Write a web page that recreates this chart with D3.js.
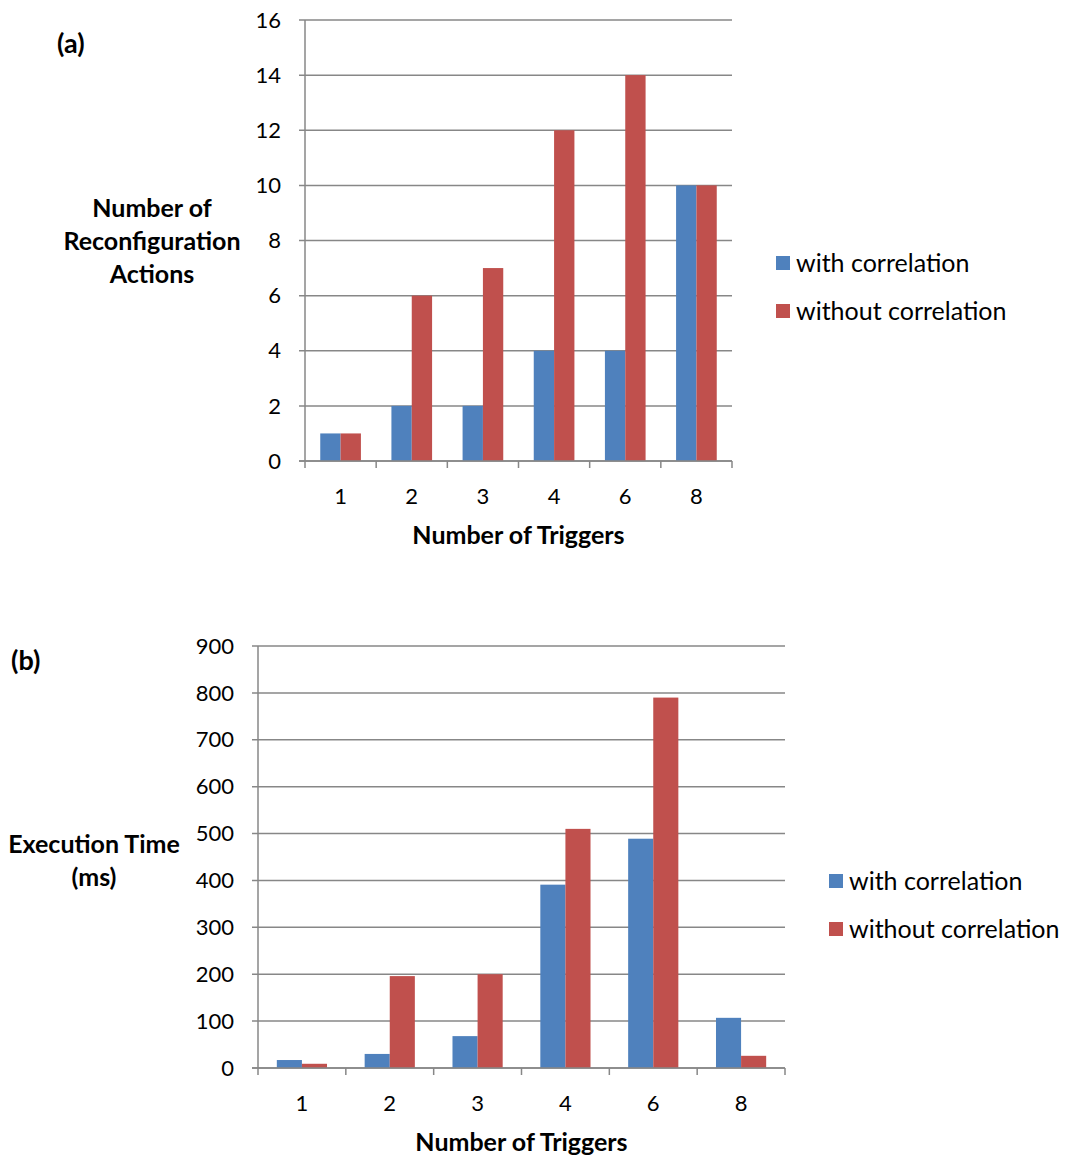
<!DOCTYPE html>
<html>
<head>
<meta charset="utf-8">
<script src="https://cdn.jsdelivr.net/npm/d3@7"></script>
<style>
  body { margin: 0; background: #fff; }
  text { font-family: Lato, "Open Sans", sans-serif; fill: #000; }
  .grid line { stroke: #878787; stroke-width: 1.5; }
</style>
</head>
<body>
<svg id="chart" width="1065" height="1160"></svg>
<script>
// shared categories / series
var triggers = ["1", "2", "3", "4", "6", "8"];
var seriesNames = ["with correlation", "without correlation"];
var seriesColors = ["#4F81BD", "#C0504D"];

// (a) number of reconfiguration actions
var actionsWith = [1, 2, 2, 4, 4, 10];
var actionsWithout = [1, 6, 7, 12, 14, 10];
var actionsTicks = [0, 2, 4, 6, 8, 10, 12, 14, 16];

// (b) execution time (ms)
var timeWith = [17, 30, 68, 391, 489, 107];
var timeWithout = [9, 196, 200, 510, 790, 26];
var timeTicks = [0, 100, 200, 300, 400, 500, 600, 700, 800, 900];

var svg = d3.select("#chart");

function drawPanel(opt) {
  var g = svg.append("g");

  var x = d3.scaleBand().domain(triggers).range([opt.left, opt.right]);
  var w = x.bandwidth();
  var gap = w * 0.75 / 3.5;
  var xs = d3.scaleBand().domain(seriesNames).range([gap, w - gap]);
  var y = d3.scaleLinear().domain([0, opt.max]).range([opt.bottom, opt.top]);

  // gridlines + y ticks
  g.append("g").attr("class", "grid")
    .selectAll("line").data(opt.ticks).enter().append("line")
      .attr("x1", opt.left - 6).attr("x2", opt.right)
      .attr("y1", function(d) { return y(d); })
      .attr("y2", function(d) { return y(d); });

  g.selectAll(".ylab").data(opt.ticks).enter().append("text")
      .attr("class", "ylab")
      .attr("x", opt.left - 24)
      .attr("y", function(d) { return y(d); })
      .attr("dy", "0.35em")
      .attr("text-anchor", "end")
      .style("font-size", "22px")
      .text(function(d) { return d; });

  // bars
  var rows = triggers.map(function(t, i) {
    return { cat: t, vals: [opt.a[i], opt.b[i]] };
  });
  var grp = g.selectAll(".cat").data(rows).enter().append("g")
      .attr("transform", function(d) { return "translate(" + x(d.cat) + ",0)"; });
  grp.selectAll("rect").data(function(d) {
      return d.vals.map(function(v, j) { return { s: seriesNames[j], v: v, j: j }; });
    }).enter().append("rect")
      .attr("x", function(d) { return xs(d.s); })
      .attr("width", xs.bandwidth())
      .attr("y", function(d) { return y(d.v); })
      .attr("height", function(d) { return y(0) - y(d.v); })
      .attr("fill", function(d) { return seriesColors[d.j]; });

  // axes lines
  var axis = g.append("g").attr("class", "grid");
  axis.append("line")
      .attr("x1", opt.left).attr("x2", opt.left)
      .attr("y1", y(opt.max)).attr("y2", opt.bottom + 7);
  axis.append("line")
      .attr("x1", opt.left - 6).attr("x2", opt.right)
      .attr("y1", opt.bottom).attr("y2", opt.bottom);
  axis.selectAll(".xt").data(triggers.slice(1).concat(["end"])).enter().append("line")
      .attr("x1", function(d, i) { return opt.left + w * (i + 1); })
      .attr("x2", function(d, i) { return opt.left + w * (i + 1); })
      .attr("y1", opt.bottom).attr("y2", opt.bottom + 7);

  g.selectAll(".xlab").data(triggers).enter().append("text")
      .attr("x", function(d) { return x(d) + w / 2; })
      .attr("y", opt.bottom + 43)
      .attr("text-anchor", "middle")
      .style("font-size", "22px")
      .text(function(d) { return d; });

  // titles
  g.append("text")
      .attr("x", (opt.left + opt.right) / 2 + opt.xtOff)
      .attr("y", opt.bottom + 83)
      .attr("text-anchor", "middle")
      .style("font-size", "25px").style("font-weight", "bold")
      .text("Number of Triggers");

  g.append("text")
      .attr("x", opt.tagX).attr("y", opt.tagY)
      .style("font-size", "27px").style("font-weight", "bold")
      .text(opt.tag);

  var yt = g.append("text")
      .attr("text-anchor", "middle")
      .style("font-size", "25px").style("font-weight", "bold");
  opt.ytitle.forEach(function(line, i) {
    yt.append("tspan")
      .attr("x", opt.ytX)
      .attr("y", opt.ytY + i * 33)
      .text(line);
  });

  // legend
  var leg = g.selectAll(".leg").data(seriesNames).enter().append("g")
      .attr("transform", function(d, i) { return "translate(" + opt.legX + "," + (opt.legY + i * 48) + ")"; });
  leg.append("rect")
      .attr("x", 0).attr("y", -7).attr("width", 14).attr("height", 14)
      .attr("fill", function(d, i) { return seriesColors[i]; });
  leg.append("text")
      .attr("x", 20).attr("dy", "0.35em")
      .style("font-size", "25px")
      .text(function(d) { return d; });
}

drawPanel({
  left: 305, right: 732, top: 20, bottom: 461, max: 16,
  ticks: actionsTicks, a: actionsWith, b: actionsWithout,
  tag: "(a)", tagX: 57, tagY: 53,
  ytitle: ["Number of", "Reconfiguration", "Actions"], ytX: 152, ytY: 217,
  xtOff: 0,
  legX: 776, legY: 263
});

drawPanel({
  left: 258, right: 785, top: 646, bottom: 1068, max: 900,
  ticks: timeTicks, a: timeWith, b: timeWithout,
  tag: "(b)", tagX: 11, tagY: 670,
  ytitle: ["Execution Time", "(ms)"], ytX: 94, ytY: 853,
  xtOff: 0,
  legX: 829, legY: 881
});
</script>
</body>
</html>
